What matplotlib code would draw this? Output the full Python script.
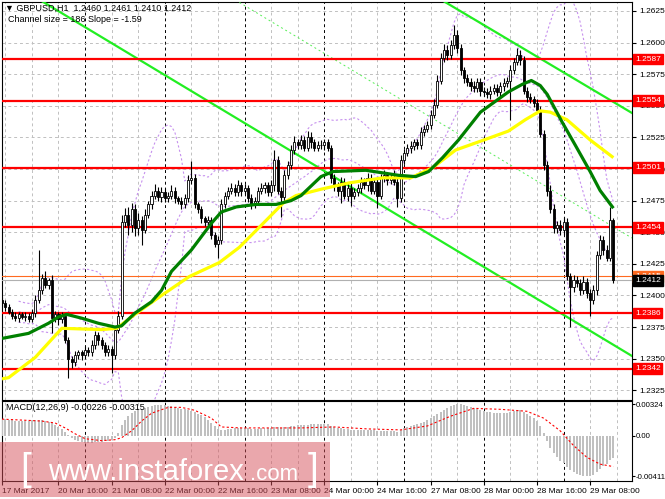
import numpy as np
import pandas as pd
import matplotlib
matplotlib.use("Agg")
import matplotlib.pyplot as plt
from matplotlib.patches import Rectangle

plt.rcParams['font.family'] = ['Liberation Sans', 'DejaVu Sans']

# ---- data (GBPUSD H1) ----
first_open = 1.2396
close = [
    1.2394, 1.2391, 1.2387, 1.2384, 1.2382, 1.2385, 1.2383, 1.2384, 1.2381, 1.2386,
    1.2396, 1.2404, 1.2414, 1.2408, 1.2412, 1.2382, 1.2385, 1.2381, 1.2384, 1.2365,
    1.2350, 1.2347, 1.2353, 1.2355, 1.2353, 1.2357, 1.2355, 1.2361, 1.2369, 1.2365,
    1.2361, 1.2355, 1.2358, 1.2353, 1.2373, 1.2384, 1.2458, 1.2464, 1.2456, 1.2468,
    1.2453, 1.2460, 1.2452, 1.2464, 1.2472, 1.2479, 1.2483, 1.2478, 1.2482, 1.2477,
    1.2479, 1.2483, 1.2477, 1.2475, 1.2472, 1.2477, 1.2491, 1.2493, 1.2472, 1.2468,
    1.2461, 1.2458, 1.2460, 1.2448, 1.2441, 1.2444, 1.2472, 1.2479, 1.2483, 1.2485,
    1.2482, 1.2487, 1.2483, 1.2485, 1.2477, 1.2472, 1.2475, 1.2483, 1.2485, 1.2487,
    1.2482, 1.2487, 1.2507, 1.2483, 1.2478, 1.2495, 1.2503, 1.2515, 1.2521, 1.2519,
    1.2523, 1.2517, 1.2525, 1.2521, 1.2517, 1.2519, 1.2519, 1.2521, 1.2517, 1.2493,
    1.2487, 1.2483, 1.2490, 1.2479, 1.2485, 1.2479, 1.2482, 1.2485, 1.2490, 1.2487,
    1.2493, 1.2483, 1.2490, 1.2479, 1.2493, 1.2495, 1.2491, 1.2494, 1.2490, 1.2477,
    1.2507, 1.2513, 1.2517, 1.2518, 1.2521, 1.2519, 1.2529, 1.2532, 1.2535, 1.2543,
    1.2551, 1.2570, 1.2588, 1.2594, 1.2590, 1.2598, 1.2606, 1.2596, 1.2578, 1.2572,
    1.2569, 1.2566, 1.2564, 1.2569, 1.2562, 1.2561, 1.2559, 1.2562, 1.2564, 1.2561,
    1.2566, 1.2568, 1.2570, 1.2578, 1.2585, 1.2590, 1.2586, 1.2562, 1.2557, 1.2555,
    1.2552, 1.2547, 1.2528, 1.2503, 1.2483, 1.2468, 1.2453, 1.2456, 1.2452, 1.2458,
    1.2415, 1.2407, 1.2412, 1.2410, 1.2404, 1.2411, 1.2402, 1.2396, 1.2404, 1.2432,
    1.2444, 1.2436, 1.2430, 1.2460, 1.2412,
]
# wick lengths in pips above max(open, close) and below min(open, close)
up_wick = [
    3, 2, 2, 2, 3, 2, 2, 3, 2, 3,   4, 32, 3, 5, 2, 4, 3, 2, 3, 2,
    2, 2, 3, 2, 2, 3, 2, 4, 3, 2,   2, 2, 3, 2, 3, 4, 6, 5, 6, 5,
    4, 5, 3, 4, 3, 4, 5, 3, 4, 3,   3, 4, 3, 2, 3, 3, 4, 13, 3, 2,
    3, 2, 3, 2, 2, 3, 4, 3, 3, 4,   3, 4, 3, 3, 2, 3, 3, 3, 4, 3,
    3, 4, 8, 3, 3, 4, 3, 4, 5, 3,   4, 3, 5, 4, 3, 3, 4, 3, 3, 2,
    3, 3, 4, 3, 3, 4, 3, 3, 4, 3,   4, 3, 3, 4, 3, 4, 3, 3, 5, 3,
    4, 3, 3, 4, 3, 3, 4, 3, 3, 4,   4, 4, 4, 5, 4, 4, 8, 4, 3, 3,
    3, 3, 4, 3, 3, 3, 3, 4, 3, 3,   3, 4, 3, 4, 3, 6, 4, 3, 3, 3,
    3, 3, 3, 3, 3, 4, 4, 3, 4, 4,   3, 3, 4, 3, 3, 4, 3, 3, 4, 3,
    4, 3, 4, 10, 1,
]
low_wick = [
    3, 3, 2, 3, 2, 3, 2, 3, 2, 2,   3, 2, 3, 2, 3, 12, 3, 4, 3, 3,
    15, 4, 3, 3, 4, 3, 3, 3, 3, 4,  3, 3, 3, 14, 3, 3, 3, 4, 8, 6,
    6, 5, 12, 3, 3, 4, 3, 3, 4, 3,  3, 3, 4, 3, 4, 3, 3, 3, 3, 3,
    4, 3, 3, 3, 3, 11, 3, 3, 3, 3,  3, 3, 4, 3, 3, 4, 3, 3, 3, 4,
    3, 3, 4, 3, 16, 3, 3, 3, 3, 3,  3, 3, 3, 4, 3, 3, 3, 4, 3, 4,
    4, 4, 10, 3, 4, 8, 3, 3, 4, 3,  4, 3, 3, 10, 3, 3, 4, 3, 3, 7,
    3, 3, 3, 4, 3, 3, 3, 3, 3, 3,   3, 3, 3, 3, 4, 3, 3, 4, 4, 4,
    3, 4, 3, 3, 4, 3, 3, 4, 3, 3,   3, 4, 3, 31, 3, 3, 4, 3, 4, 3,
    3, 3, 3, 4, 4, 3, 4, 4, 4, 4,   3, 32, 4, 3, 4, 3, 4, 12, 3, 4,
    3, 4, 3, 3, 2,
]

# moving averages (bar index, price)
green_ma_bar = [0, 8, 14, 17, 19.5, 24, 29, 34, 36, 40, 45, 48, 51, 57, 63, 66, 70.5, 76.5,
                82.5, 87, 90, 96, 99.6, 109.5, 119.4, 124.5, 128.4, 132.6, 137.4, 144,
                152.4, 156.6, 159.3, 162, 164.1, 168.6, 172.5, 177, 180, 184]
green_ma = [1.2366, 1.2370, 1.2378, 1.2383, 1.2385, 1.2382, 1.2378, 1.2375, 1.2376, 1.2386,
            1.2395, 1.2404, 1.2419, 1.2436, 1.2457, 1.2466, 1.2470, 1.2472, 1.2472, 1.2475,
            1.2479, 1.2494, 1.2498, 1.2499, 1.2495, 1.2494, 1.2498, 1.2509, 1.2523, 1.2545,
            1.2561, 1.2567, 1.2570, 1.2566, 1.2559, 1.2537, 1.2519, 1.2498, 1.2483, 1.2469]
yellow_ma_bar = [0, 2, 10, 18, 30, 34.5, 40, 48, 56.4, 65.4, 71.4, 78.6, 84.6, 88.5, 96,
                 104.4, 114.6, 123, 129.6, 136.5, 144, 152.4, 157.5, 162, 165, 170, 177, 184]
yellow_ma = [1.2334, 1.2335, 1.2351, 1.2374, 1.2373, 1.2374, 1.2385, 1.2400, 1.2415, 1.2426,
             1.2438, 1.2457, 1.2473, 1.2479, 1.2484, 1.2489, 1.2493, 1.2493, 1.2501, 1.2515,
             1.2522, 1.2530, 1.2539, 1.2546, 1.2545, 1.2539, 1.2523, 1.2509]

# channel trend lines: two points each (bar, price)
chan_lower = [(11.4, 1.26337), (189.6, 1.23521)]
chan_mid = [(70.2, 1.26337), (189.6, 1.24454)]
chan_upper = [(132.3, 1.26337), (189.6, 1.25443)]

levels = [1.2587, 1.2554, 1.2501, 1.2454, 1.2386, 1.2342]
ask_line = 1.2415
bid_line = 1.2412

macd_hist = [
    .0017, .0017, .0016, .0016, .0015, .0015, .0015, .0015, .0015, .0016,
    .0016, .0016, .0016, .0015, .0014, .0013, .0011, .0009, .0007, .0004,
    .0001, -.0002, -.0004, -.0005, -.0006, -.0007, -.0007, -.0007, -.0006, -.0006,
    -.0006, -.0005, -.0005, -.0004, -.0002, .0003, .0011, .0016, .0020, .0023,
    .0025, .0026, .0027, .0028, .0029, .0030, .0031, .0031, .0031, .0031,
    .0030, .0030, .0029, .0028, .0027, .0027, .0026, .0025, .0024, .0022,
    .0021, .0019, .0016, .0013, .0010, .0007, .0006, .0006, .0007, .0007,
    .0008, .0008, .0008, .0008, .0008, .0007, .0007, .0007, .0008, .0008,
    .0008, .0008, .0009, .0009, .0008, .0009, .0009, .0010, .0010, .0011,
    .0011, .0011, .0011, .0012, .0012, .0012, .0012, .0012, .0012, .0010,
    .0009, .0008, .0008, .0007, .0007, .0006, .0006, .0006, .0006, .0006,
    .0006, .0006, .0006, .0005, .0005, .0005, .0005, .0005, .0005, .0004,
    .0006, .0008, .0009, .0010, .0011, .0012, .0013, .0014, .0016, .0018,
    .0020, .0022, .0024, .0026, .0028, .0030, .0031, .0032, .0032, .0031,
    .0030, .0029, .0028, .0027, .0026, .0025, .0024, .0024, .0023, .0023,
    .0023, .0023, .0023, .0024, .0025, .0026, .0026, .0024, .0022, .0020,
    .0018, .0015, .0010, .0003, -.0005, -.0012, -.0018, -.0022, -.0026, -.0028,
    -.0032, -.0035, -.0037, -.0039, -.0040, -.0041, -.0041, -.0041, -.0040, -.0037,
    -.0034, -.0031, -.0029, -.0025, -.00226,
]
signal_bar = [0, 12, 16, 19, 22, 25, 30, 34, 36, 39, 42, 45, 50, 54, 58, 63, 66, 72, 90,
              100, 110, 120, 128, 135, 142, 150, 158, 163, 168, 172, 176, 180, 184]
signal = [.0017, .0015, .0013, .0008, .0002, -.0003, -.0005, -.0004, -.0002, .0005,
          .0015, .0023, .0029, .0029, .0026, .0018, .0009, .0008, .0008, .0009, .0007,
          .0006, .0010, .0020, .0028, .0027, .0025, .0018, .0005, -.0010, -.0022,
          -.0029, -.00315]

tick_bars = [0, 17, 33, 49, 65, 81, 97, 113, 129, 145, 161, 177]
tick_labels = ['17 Mar 2017', '20 Mar 16:00', '21 Mar 08:00', '22 Mar 00:00', '22 Mar 16:00',
               '23 Mar 08:00', '24 Mar 00:00', '24 Mar 16:00', '27 Mar 08:00', '28 Mar 00:00',
               '28 Mar 16:00', '29 Mar 08:00']
day_bars = [25, 49, 73, 97, 121, 145, 169]

# ---- build candles ----
c = np.array(close)
o = np.array([first_open] + close[:-1])
h = np.maximum(o, c) + np.array(up_wick) * 0.0001
l = np.minimum(o, c) - np.array(low_wick) * 0.0001
x = np.arange(len(c))
bull = c >= o

s = pd.Series(c)
bb_mid = s.rolling(20, min_periods=6).mean()
bb_sd = s.rolling(20, min_periods=6).std(ddof=0)

# ---- figure ----
W, H = 665, 499
fig = plt.figure(figsize=(W / 100, H / 100), dpi=100)


def px_box(x0, y0, x1, y1):
    return [x0 / W, 1 - y1 / H, (x1 - x0) / W, (y1 - y0) / H]


ax = fig.add_axes(px_box(2, 2, 632, 400))
axm = fig.add_axes(px_box(2, 401, 632, 481), sharex=ax)

grid_col = '#c0c0c0'
for a in (ax, axm):
    for b in range(1, 190, 8):
        if b in day_bars:
            a.axvline(b, color='black', lw=0.7, ls=(0, (3, 3)), zorder=1)
        else:
            a.axvline(b, color=grid_col, lw=0.7, ls=(0, (3, 3)), zorder=1)

price_ticks = np.arange(1.2325, 1.2626, 0.0025)
for p in price_ticks:
    ax.axhline(p, color=grid_col, lw=0.7, ls=(0, (3, 3)), zorder=1)

# bollinger bands
bb_col = '#c690ee'
for band in (bb_mid, bb_mid + 2 * bb_sd, bb_mid - 2 * bb_sd):
    ax.plot(x, band, color=bb_col, lw=0.8, ls=(0, (2, 2)), zorder=2)

# channel
for (x0, y0), (x1, y1) in (chan_lower, chan_upper):
    ax.plot([x0, x1], [y0, y1], color='#22ee22', lw=1.6, zorder=3)
ax.plot([chan_mid[0][0], chan_mid[1][0]], [chan_mid[0][1], chan_mid[1][1]],
        color='#55ee55', lw=0.7, ls=(0, (2, 3)), zorder=3)

# horizontal levels
for lv in levels:
    ax.axhline(lv, color='#ff0000', lw=1.6, zorder=3)
ax.axhline(ask_line, color='#ff6a20', lw=0.8, zorder=3)
ax.axhline(bid_line, color='#b0b0b0', lw=0.8, zorder=3)

# candles
ax.vlines(x, l, h, color='black', lw=0.8, zorder=4)
ax.bar(x[bull], (c - o)[bull], bottom=o[bull], width=0.62, color='white',
       edgecolor='black', lw=0.6, zorder=5)
ax.bar(x[~bull], (c - o)[~bull], bottom=o[~bull], width=0.62, color='black',
       edgecolor='black', lw=0.6, zorder=5)

# moving averages
ax.plot(yellow_ma_bar, yellow_ma, color='#ffff00', lw=2.3, zorder=6, solid_capstyle='butt')
ax.plot(green_ma_bar, green_ma, color='#008000', lw=2.3, zorder=7, solid_capstyle='butt')

ax.set_xlim(0.6, 189.6)
ax.set_ylim(1.23173, 1.26321)
ax.yaxis.tick_right()
ax.set_yticks(price_ticks)
ax.set_yticklabels([f'{p:.4f}' for p in price_ticks])
ax.tick_params(axis='y', direction='out', length=3, width=0.8, labelsize=6, pad=2)
ax.tick_params(axis='x', bottom=False, labelbottom=False)

# right-axis boxes
ytr = ax.get_yaxis_transform()
for lv in levels:
    ax.text(1.0048, lv, f'{lv:.4f}', transform=ytr, fontsize=6, color='white', va='center',
            ha='left', clip_on=False, zorder=20,
            bbox=dict(boxstyle='square,pad=0.22', fc='#ff0000', ec='#ff0000'))
ax.text(1.0048, ask_line, f'{ask_line:.4f}', transform=ytr, fontsize=6, color='white',
        va='center', ha='left', clip_on=False, zorder=20,
        bbox=dict(boxstyle='square,pad=0.22', fc='#ff6a20', ec='#ff6a20'))
ax.text(1.0048, bid_line, f'{bid_line:.4f}', transform=ytr, fontsize=6, color='white',
        va='center', ha='left', clip_on=False, zorder=21,
        bbox=dict(boxstyle='square,pad=0.22', fc='black', ec='black'))

# MACD panel
axm.bar(x, macd_hist, width=0.6, color='#c0c0c0', zorder=3)
axm.plot(signal_bar, signal, color='#ff0000', lw=0.8, ls=(0, (2, 2)), zorder=4)
axm.set_ylim(-0.00462, 0.00355)
axm.yaxis.tick_right()
axm.set_yticks([0.00324, 0.0, -0.00411])
axm.set_yticklabels(['0.00324', '0.00', '-0.00411'])
axm.tick_params(axis='y', direction='out', length=2, width=0.8, labelsize=5.6, pad=0.8)
axm.set_xticks(tick_bars)
axm.set_xticklabels(tick_labels)
axm.tick_params(axis='x', direction='out', length=3, width=0.8, labelsize=6, pad=2)
for t in axm.get_xticklabels():
    t.set_horizontalalignment('left')

for a in (ax, axm):
    for sp in a.spines.values():
        sp.set_color('black')
        sp.set_linewidth(0.8)

# texts
fig.text(5 / W, 1 - 8 / H, '\u25bc GBPUSD,H1  1.2460 1.2461 1.2410 1.2412', fontsize=6.5,
         va='center', ha='left', family=['Liberation Sans', 'DejaVu Sans'])
fig.text(8 / W, 1 - 20 / H, 'Channel size = 186 Slope = -1.59', fontsize=6.5,
         va='center', ha='left')
fig.text(6 / W, 1 - 408 / H, 'MACD(12,26,9) -0.00226 -0.00315', fontsize=6.5,
         va='center', ha='left')

# watermark
fig.patches.append(Rectangle((0, 1 - 497 / H), 330 / W, 55 / H, transform=fig.transFigure,
                             fc='#d6505a', alpha=0.5, ec='none', zorder=10))
fig.text(20 / W, 1 - 480 / H, '[', fontsize=28, color='white', va='baseline', zorder=11)
fig.text(48 / W, 1 - 480 / H, 'www.instaforex', fontsize=21, color='white',
         va='baseline', zorder=11)
fig.text(250 / W, 1 - 480 / H, '.com', fontsize=16, color='white', va='baseline', zorder=11)
fig.text(308 / W, 1 - 480 / H, ']', fontsize=28, color='white', va='baseline', zorder=11)

fig.savefig('out.png', dpi=100, facecolor='white')
